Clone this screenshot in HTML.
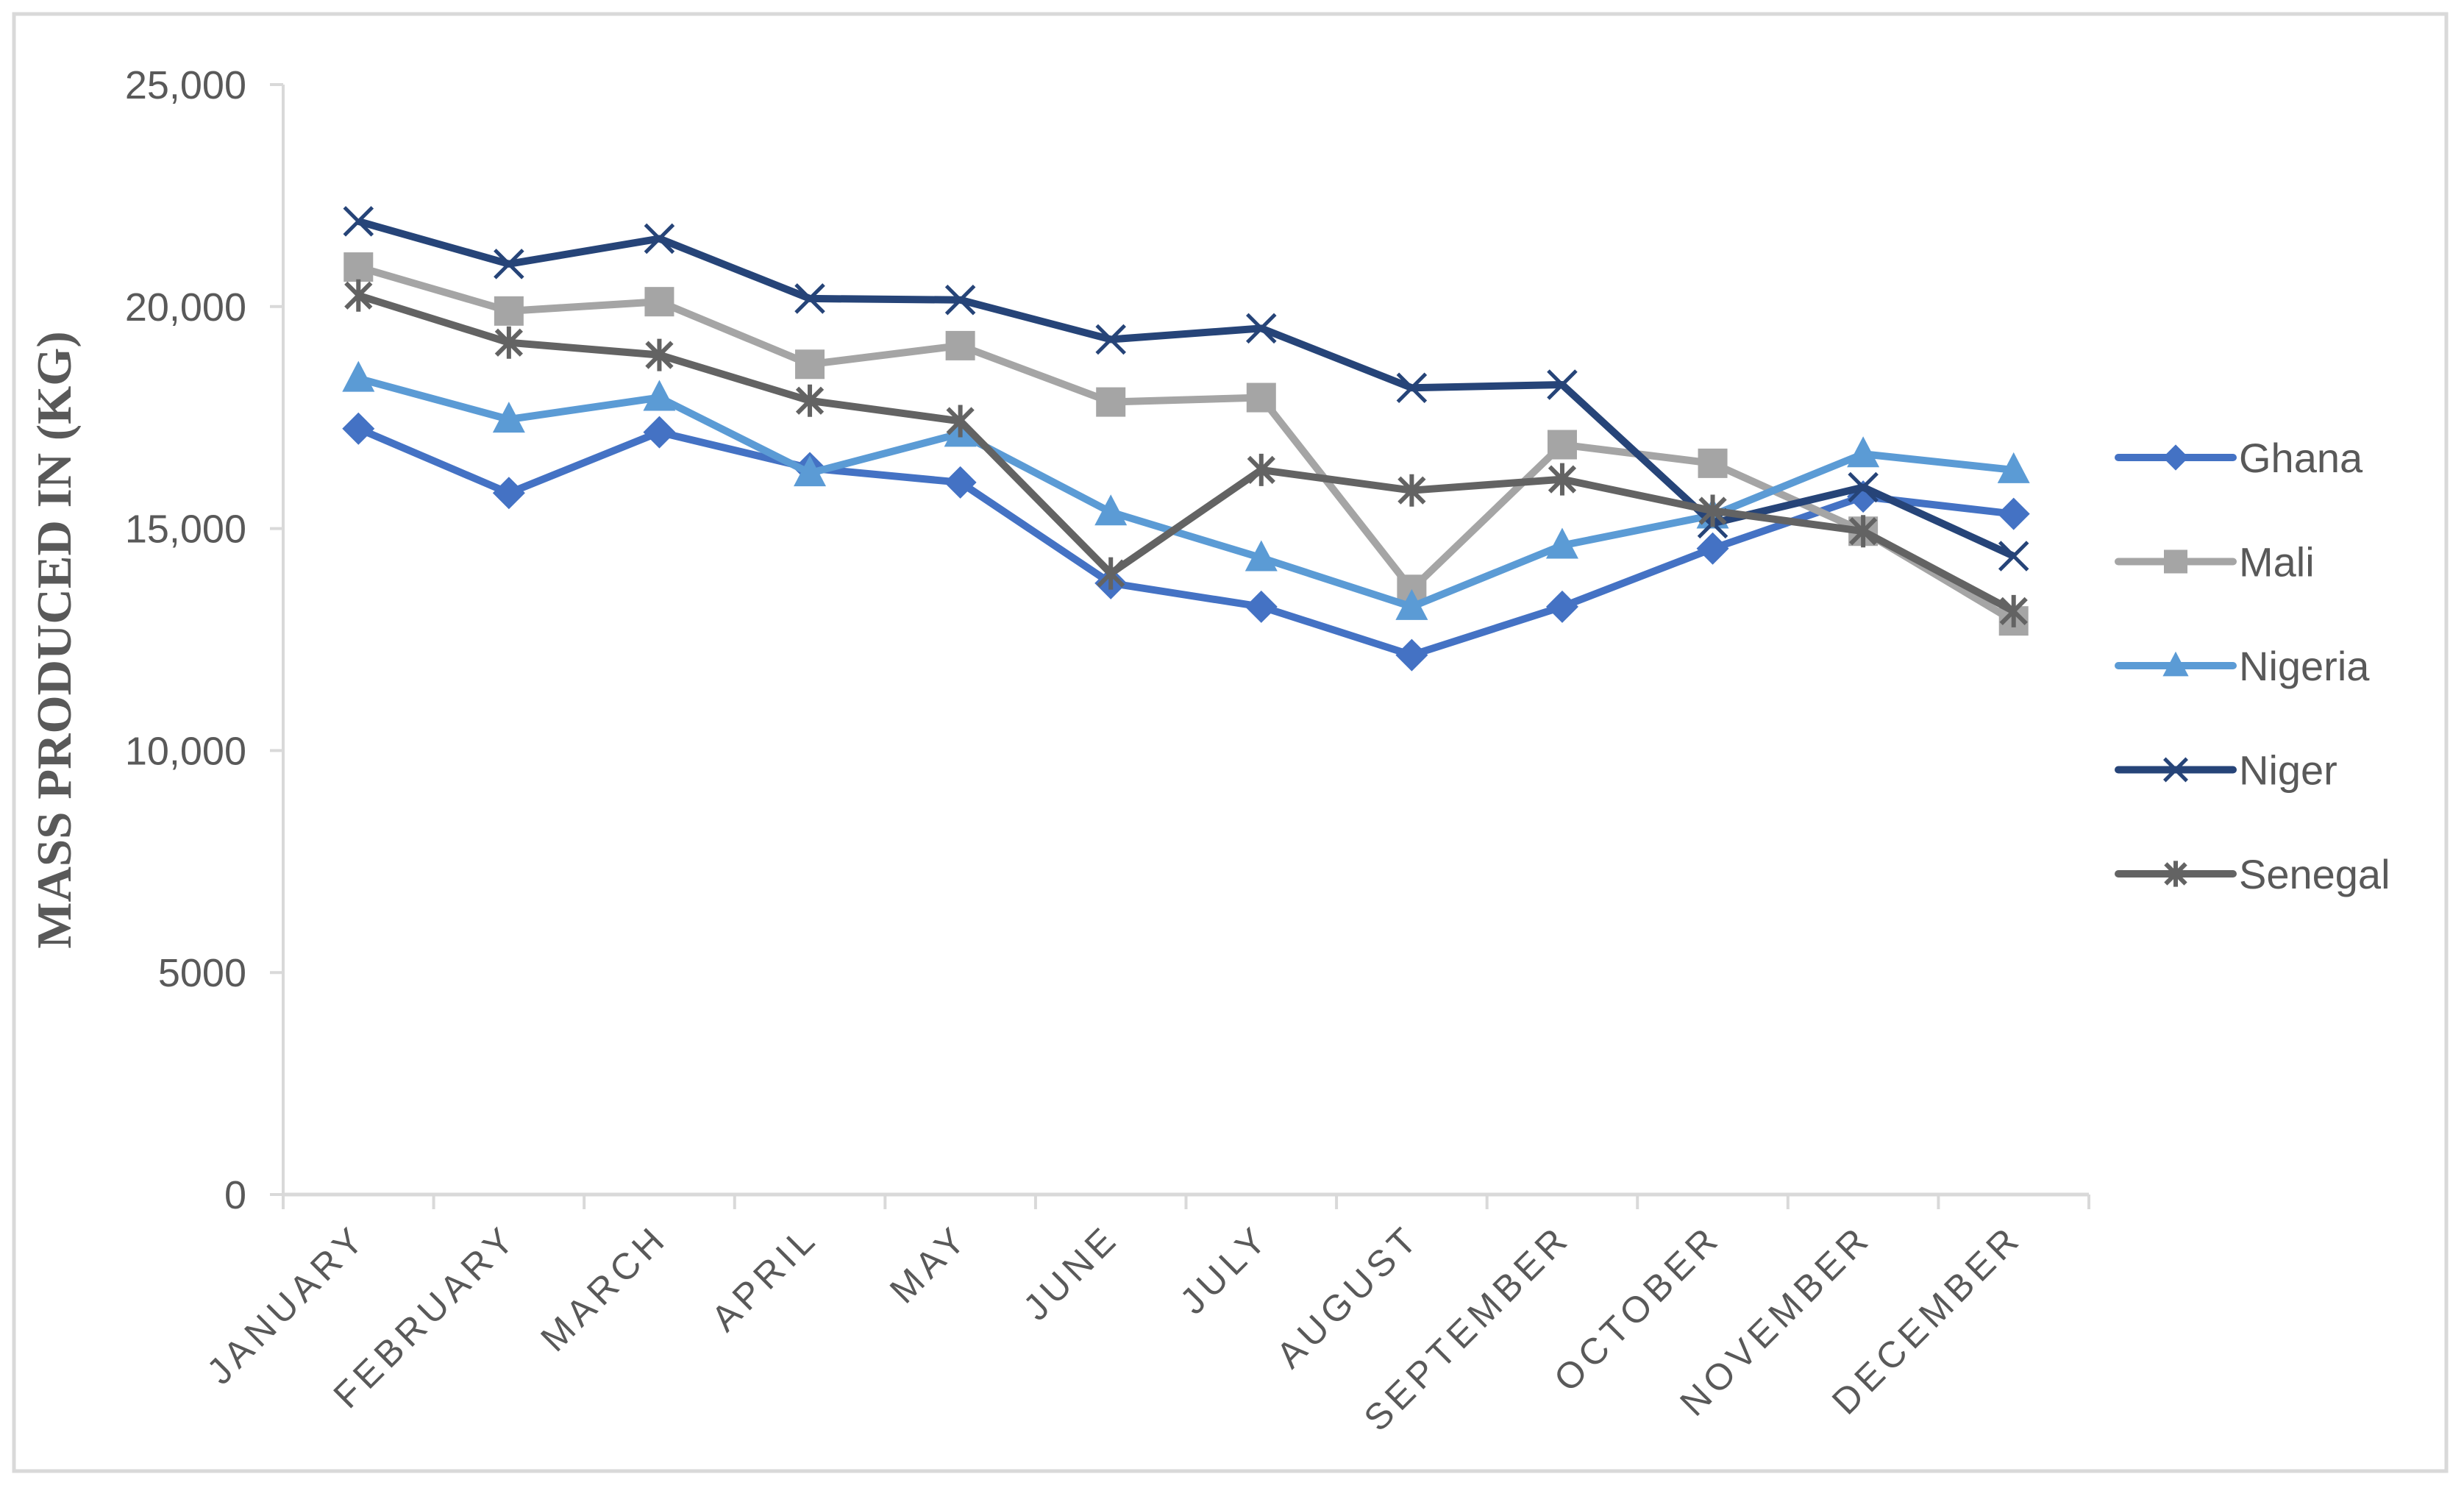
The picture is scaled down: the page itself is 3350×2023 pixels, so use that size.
<!DOCTYPE html>
<html><head><meta charset="utf-8"><style>
html,body{margin:0;padding:0;background:#fff;}
svg{display:block;font-family:"Liberation Sans",sans-serif;}
</style></head><body>
<svg id="chart" width="3350" height="2023" viewBox="0 0 3350 2023" xmlns="http://www.w3.org/2000/svg">
<rect x="19" y="19" width="3307" height="1981" fill="#fff" stroke="#d9d9d9" stroke-width="5"/>
<g id="grid"></g><g id="series"></g><g id="legend"></g>
<text transform="translate(96,870) rotate(-90)" text-anchor="middle" font-family="Liberation Serif,serif" font-weight="bold" font-size="67" fill="#595959">MASS PRODUCED IN (KG)</text>
</svg>
<script>
const months = ["JANUARY","FEBRUARY","MARCH","APRIL","MAY","JUNE","JULY","AUGUST","SEPTEMBER","OCTOBER","NOVEMBER","DECEMBER"];
const yTicks = [0,5000,10000,15000,20000,25000];
const yTickLabels = ["0","5000","10,000","15,000","20,000","25,000"];
const seriesNames = ["Ghana","Mali","Nigeria","Niger","Senegal"];
const ghana = [17250,15800,17170,16360,16040,13770,13240,12150,13240,14550,15720,15330];
const mali = [20890,19900,20110,18700,19120,17850,17950,13630,16890,16470,14940,12920];
const nigeria = [18380,17460,17950,16250,17140,15370,14340,13240,14620,15300,16680,16320];
const niger = [21920,20960,21530,20180,20150,19260,19510,18170,18240,15120,15930,14380];
const senegal = [20250,19190,18910,17880,17420,13990,16320,15860,16110,15400,14940,13140];
const allSeries = [ghana,mali,nigeria,niger,senegal];
const colors = ["#4472C4","#A5A5A5","#5B9BD5","#264478","#636363"];
const markers = ["diamond","square","triangle","x","star"];

const NS="http://www.w3.org/2000/svg";
const X0=385, X1=2840, Y0=1624, Y1=115, YMAX=25000;
const band=(X1-X0)/months.length;
const xs=i=>X0+band*(i+0.5);
const ys=v=>Y0-(v/YMAX)*(Y0-Y1);
function mk(tag,attrs,parent){const e=document.createElementNS(NS,tag);for(const k in attrs)e.setAttribute(k,attrs[k]);parent.appendChild(e);return e;}
const grid=document.getElementById('grid');
let ax=mk('line',{x1:X0,y1:Y1,x2:X0,y2:Y0,stroke:'#d9d9d9','stroke-width':4},grid);


yTicks.forEach((t,i)=>{
  let l=mk('line',{x1:X0-18,y1:ys(t),x2:X0,y2:ys(t),stroke:'#d9d9d9','stroke-width':4},grid);
  
  
  let tx=mk('text',{x:X0-50,y:ys(t)+19,'text-anchor':'end','font-size':54,fill:'#595959'},grid);
  
  
  tx.textContent=yTickLabels[i];
});
let xa=mk('line',{x1:X0,y1:Y0,x2:X1,y2:Y0,stroke:'#d9d9d9','stroke-width':5},grid);


for(let i=0;i<=months.length;i++){
  let l=mk('line',{x1:X0+band*i,y1:Y0,x2:X0+band*i,y2:Y0+20,stroke:'#d9d9d9','stroke-width':4},grid);
  
  
}
months.forEach((m,i)=>{
  const x=xs(i)+14,y=Y0+62;
  let t=mk('text',{x:x,y:y,'text-anchor':'end','font-size':50,fill:'#595959','letter-spacing':'7',transform:`rotate(-45 ${x} ${y})`},grid);
  
  
  t.textContent=m;
});
function marker(type,x,y,c,g,s){
  s=s||1;
  let e;
  if(type==='diamond') e=mk('polygon',{points:`${x},${y-22*s} ${x+22*s},${y} ${x},${y+22*s} ${x-22*s},${y}`,fill:c},g);
  else if(type==='square') e=mk('rect',{x:x-20*s,y:y-20*s,width:40*s,height:40*s,fill:c},g);
  else if(type==='triangle') e=mk('polygon',{points:`${x},${y-24*s} ${x+22*s},${y+18*s} ${x-22*s},${y+18*s}`,fill:c},g);
  else if(type==='x') e=mk('path',{d:`M${x-19*s},${y-19*s}L${x+19*s},${y+19*s}M${x+19*s},${y-19*s}L${x-19*s},${y+19*s}`,stroke:c,'stroke-width':5,fill:'none'},g);
  else e=mk('path',{d:`M${x-17*s},${y-17*s}L${x+17*s},${y+17*s}M${x+17*s},${y-17*s}L${x-17*s},${y+17*s}M${x},${y-22*s}L${x},${y+22*s}`,stroke:c,'stroke-width':6,fill:'none'},g);
  return e;
}
const sg=document.getElementById('series');
allSeries.forEach((vals,si)=>{
  const g=mk('g',{},sg);
  
  
  const pl=mk('polyline',{points:vals.map((v,i)=>xs(i)+','+ys(v)).join(' '),fill:'none',stroke:colors[si],'stroke-width':10,'stroke-linejoin':'round'},g);
  
  
  vals.forEach((v,i)=>{
    const m=marker(markers[si],xs(i),ys(v),colors[si],g);
    
    
  });
});
const lg=document.getElementById('legend');
seriesNames.forEach((n,i)=>{
  const y=622+141.5*i;
  const g=mk('g',{},lg);
  
  
  mk('line',{x1:2880,y1:y,x2:3036,y2:y,stroke:colors[i],'stroke-width':10,'stroke-linecap':'round'},g);
  marker(markers[i],2958,y,colors[i],g,0.8);
  const t=mk('text',{x:3044,y:y+20,'font-size':56,fill:'#595959'},g);
  
  
  t.textContent=n;
});
</script>
</body></html>
